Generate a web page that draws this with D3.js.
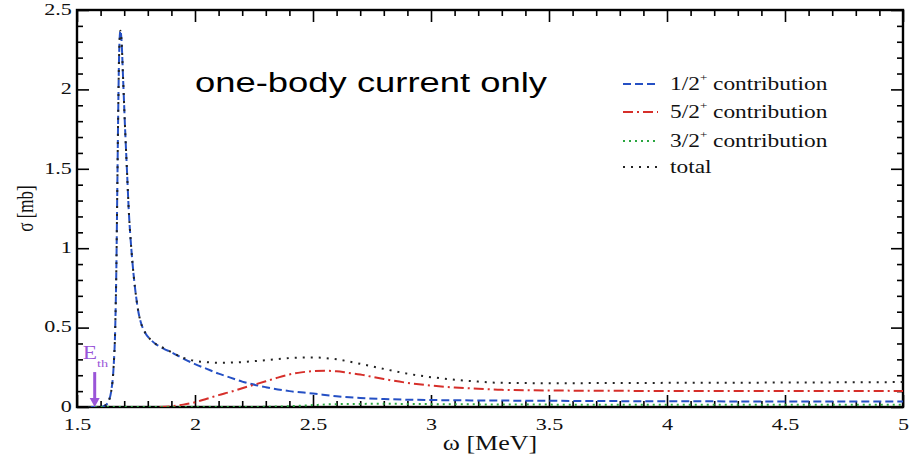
<!DOCTYPE html>
<html>
<head>
<meta charset="utf-8">
<script src="https://cdn.jsdelivr.net/npm/d3@7"></script>
<style>
  html, body { margin: 0; padding: 0; background: #fff; }
  svg { display: block; }
</style>
</head>
<body>
<svg id="chart" width="917" height="457"></svg>
<script>
// ---- data -------------------------------------------------------------
// 1/2+ partial cross section
const halfOmega = [1.55, 1.60, 1.62, 1.635, 1.645, 1.655, 1.662, 1.667, 1.671, 1.675, 1.679, 1.684,
  1.689, 1.695, 1.703, 1.712, 1.72, 1.73, 1.74, 1.75, 1.76, 1.77, 1.79, 1.815, 1.84, 1.87, 1.90, 1.95,
  2.0, 2.05, 2.1, 2.15, 2.2, 2.3, 2.4, 2.5, 2.6, 2.7, 2.8, 3.0, 3.5, 4.0, 4.5, 5.0];
const halfSigma = [0, 0, 0.01, 0.04, 0.10, 0.25, 0.5, 0.9, 1.4, 1.9, 2.25, 2.37,
  2.3, 2.08, 1.78, 1.48, 1.22, 1.0, 0.83, 0.70, 0.60, 0.535, 0.465, 0.42, 0.39, 0.365, 0.345, 0.305,
  0.27, 0.24, 0.21, 0.185, 0.16, 0.125, 0.10, 0.085, 0.068, 0.057, 0.05, 0.044, 0.039, 0.036, 0.035, 0.034];

// 5/2+ partial cross section
const fiveOmega = [1.85, 1.9, 1.95, 2.0, 2.05, 2.1, 2.15, 2.2, 2.25, 2.3, 2.35, 2.4, 2.45, 2.5,
  2.55, 2.6, 2.65, 2.7, 2.75, 2.8, 2.9, 3.0, 3.1, 3.2, 3.3, 3.5, 4.0, 4.5, 5.0];
const fiveSigma = [0, 0.005, 0.015, 0.03, 0.052, 0.075, 0.095, 0.118, 0.14, 0.162, 0.185, 0.205, 0.218, 0.226,
  0.228, 0.225, 0.215, 0.205, 0.19, 0.176, 0.152, 0.135, 0.123, 0.115, 0.108, 0.104, 0.101, 0.100, 0.100];

// 3/2+ partial cross section
const threeOmega = [1.55, 2.2, 2.4, 2.5, 2.6, 2.8, 3.0, 3.5, 4.0, 4.5, 5.0];
const threeSigma = [0, 0, 0.005, 0.012, 0.018, 0.02, 0.018, 0.015, 0.014, 0.014, 0.014];

// total cross section
const totalOmega = [1.55, 1.60, 1.62, 1.635, 1.645, 1.655, 1.662, 1.667, 1.671, 1.675, 1.679, 1.684,
  1.689, 1.695, 1.703, 1.712, 1.72, 1.73, 1.74, 1.75, 1.76, 1.77, 1.79, 1.815, 1.84, 1.87, 1.90, 1.95,
  2.0, 2.05, 2.1, 2.2, 2.3, 2.4, 2.5, 2.6, 2.7, 2.8, 2.9, 3.0, 3.1, 3.2, 3.3, 3.5, 4.0, 4.5, 5.0];
const totalSigma = [0, 0, 0.01, 0.04, 0.10, 0.25, 0.5, 0.9, 1.4, 1.9, 2.25, 2.37,
  2.3, 2.08, 1.78, 1.48, 1.22, 1.0, 0.83, 0.70, 0.60, 0.535, 0.465, 0.42, 0.39, 0.37, 0.345, 0.31,
  0.29, 0.282, 0.279, 0.283, 0.295, 0.308, 0.312, 0.30, 0.272, 0.24, 0.21, 0.188, 0.172, 0.16, 0.152,
  0.15, 0.152, 0.154, 0.157];

// threshold energy
const thresholdOmega = 1.575;

// axis ticks
const xMajorTicks = [1.5, 2, 2.5, 3, 3.5, 4, 4.5, 5];
const xMinorTicks = d3.range(15, 51).map(v => v / 10).filter(v => Math.abs(v * 2 - Math.round(v * 2)) > 1e-6);
const yMajorTicks = [0, 0.5, 1, 1.5, 2, 2.5];
const yMinorTicks = d3.range(0, 26).map(v => v / 10).filter(v => Math.abs(v * 2 - Math.round(v * 2)) > 1e-6);

const legendLabels = ["1/2", "5/2", "3/2", "total"];

// ---- layout -----------------------------------------------------------
const svg = d3.select("#chart");
const plot = { left: 77, right: 903, top: 10, bottom: 407 };
const SX = 1.3;            // horizontal glyph stretch used by all labels
const SERIF = "'Liberation Serif', 'Times New Roman', Times, serif";
const SANS = "'Liberation Sans', Arial, Helvetica, sans-serif";

const x = d3.scaleLinear().domain([1.5, 5]).range([plot.left, plot.right]);
const y = d3.scaleLinear().domain([0, 2.5]).range([plot.bottom, plot.top]);

// ---- axes (inward ticks on all four sides) ---------------------------
function styleAxis(g) {
  g.attr("font-family", null).attr("font-size", null);
  g.select(".domain").remove();
  g.selectAll(".tick line").attr("stroke", "#000").attr("stroke-width", 1.6);
  g.selectAll("text")
    .attr("fill", "#111")
    .style("font-family", SERIF)
    .style("font-size", "17px")
    .attr("transform", `scale(${SX},1)`);
}

svg.append("g").attr("transform", `translate(0,${plot.bottom})`)
  .call(d3.axisBottom(x).tickValues(xMinorTicks).tickSize(-6).tickFormat("")).call(styleAxis);
svg.append("g").attr("transform", `translate(0,${plot.bottom})`)
  .call(d3.axisBottom(x).tickValues(xMajorTicks).tickSize(-12).tickPadding(11).tickFormat(d => String(d)))
  .call(styleAxis);

svg.append("g").attr("transform", `translate(0,${plot.top})`)
  .call(d3.axisTop(x).tickValues(xMinorTicks).tickSize(-6).tickFormat("")).call(styleAxis);
svg.append("g").attr("transform", `translate(0,${plot.top})`)
  .call(d3.axisTop(x).tickValues(xMajorTicks).tickSize(-12).tickFormat("")).call(styleAxis);

svg.append("g").attr("transform", `translate(${plot.left},0)`)
  .call(d3.axisLeft(y).tickValues(yMinorTicks).tickSize(-6).tickFormat("")).call(styleAxis);
const leftMajor = svg.append("g").attr("transform", `translate(${plot.left},0)`)
  .call(d3.axisLeft(y).tickValues(yMajorTicks).tickSize(-12).tickPadding(4).tickFormat(d => String(d)))
  .call(styleAxis);
leftMajor.selectAll("text").attr("dy", "0.25em");

svg.append("g").attr("transform", `translate(${plot.right},0)`)
  .call(d3.axisRight(y).tickValues(yMinorTicks).tickSize(-6).tickFormat("")).call(styleAxis);
svg.append("g").attr("transform", `translate(${plot.right},0)`)
  .call(d3.axisRight(y).tickValues(yMajorTicks).tickSize(-12).tickFormat("")).call(styleAxis);

// frame
svg.append("rect")
  .attr("x", plot.left).attr("y", plot.top)
  .attr("width", plot.right - plot.left).attr("height", plot.bottom - plot.top)
  .attr("fill", "none").attr("stroke", "#000").attr("stroke-width", 2.4);

// axis titles
svg.append("text")
  .attr("transform", `translate(${(plot.left + plot.right) / 2},450) scale(${SX},1)`)
  .attr("text-anchor", "middle")
  .style("font-family", SERIF).style("font-size", "20px").attr("fill", "#111")
  .text("ω [MeV]");
svg.append("text")
  .attr("transform", `translate(33,${(plot.top + plot.bottom) / 2}) scale(${SX},1) rotate(-90)`)
  .attr("text-anchor", "middle")
  .style("font-family", SERIF).style("font-size", "17px").attr("fill", "#111")
  .text("σ [mb]");

// ---- curves -----------------------------------------------------------
const series = [
  { key: "half",  om: halfOmega,  sg: halfSigma,  color: "#2550c4", dash: "8,4" },
  { key: "five",  om: fiveOmega,  sg: fiveSigma,  color: "#d62f2a", dash: "10,4,2,4" },
  { key: "three", om: threeOmega, sg: threeSigma, color: "#2aa640", dash: "2,4" },
  { key: "total", om: totalOmega, sg: totalSigma, color: "#222",    dash: "2,6" }
];

const line = d3.line()
  .x(d => x(d[0]))
  .y(d => y(d[1]))
  .curve(d3.curveMonotoneX);

svg.append("clipPath").attr("id", "plotclip")
  .append("rect").attr("x", plot.left).attr("y", plot.top)
  .attr("width", plot.right - plot.left).attr("height", plot.bottom - plot.top);

const curves = svg.append("g").attr("clip-path", "url(#plotclip)");
series.forEach(s => {
  curves.append("path")
    .datum(d3.zip(s.om, s.sg))
    .attr("d", line)
    .attr("fill", "none")
    .attr("stroke", s.color)
    .attr("stroke-width", 2)
    .attr("stroke-dasharray", s.dash);
});

// ---- threshold marker --------------------------------------------------
const purple = "#9a55d8";
const ax = x(thresholdOmega);
svg.append("line")
  .attr("x1", ax).attr("x2", ax)
  .attr("y1", y(0.22)).attr("y2", y(0) - 7)
  .attr("stroke", purple).attr("stroke-width", 3);
svg.append("path")
  .attr("d", `M${ax - 5},${y(0) - 9} L${ax + 5},${y(0) - 9} L${ax},${y(0)} Z`)
  .attr("fill", purple);
const eth = svg.append("text")
  .attr("transform", `translate(${ax - 12},359) scale(${SX},1)`)
  .style("font-family", SERIF)
  .style("font-size", "18px")
  .attr("fill", purple);
eth.append("tspan").text("E");
eth.append("tspan").attr("dy", 8).style("font-size", "11px").text("th");

// ---- annotation --------------------------------------------------------
svg.append("text")
  .attr("transform", `translate(195,92) scale(${SX},1)`)
  .style("font-family", SANS)
  .style("font-size", "28px")
  .attr("fill", "#000")
  .text("one-body current only");

// ---- legend ------------------------------------------------------------
const legendRows = [84, 112, 141, 167];
const legend = svg.append("g");
series.forEach((s, i) => {
  const ly = legendRows[i];
  legend.append("line")
    .attr("x1", 623).attr("x2", 658)
    .attr("y1", ly).attr("y2", ly)
    .attr("stroke", s.color).attr("stroke-width", 2)
    .attr("stroke-dasharray", s.dash);
  const t = legend.append("text")
    .attr("transform", `translate(670,${ly + 6}) scale(${SX},1)`)
    .style("font-family", SERIF)
    .style("font-size", "18px")
    .attr("fill", "#111");
  const label = legendLabels[i];
  if (label === "total") {
    t.text(label);
  } else {
    t.append("tspan").text(label);
    t.append("tspan").attr("dy", -9).style("font-size", "10px").text("+");
    t.append("tspan").attr("dy", 9).text(" contribution");
  }
});
</script>
</body>
</html>
